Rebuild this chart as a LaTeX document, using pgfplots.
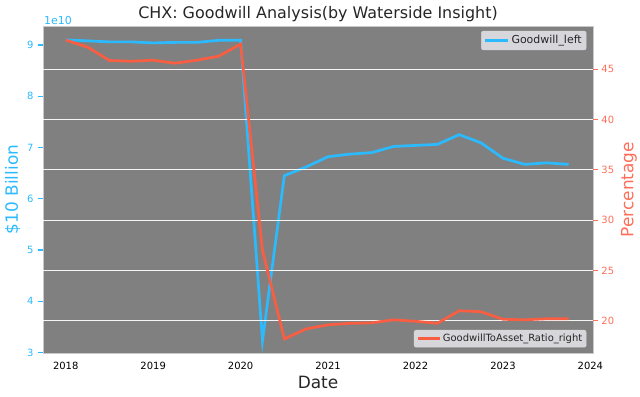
\documentclass[border=0pt]{standalone}
\usepackage{pgfplots}
\pgfplotsset{compat=1.18}
\usepackage{fontspec}
\setmainfont{DejaVu Sans}
\definecolor{gbl}{RGB}{44,186,255}
\definecolor{gred}{RGB}{250,94,66}
\definecolor{tred}{RGB}{255,110,90}
\definecolor{bg}{RGB}{128,128,128}
\definecolor{leg}{RGB}{214,214,219}
\definecolor{ttl}{RGB}{38,38,38}
\definecolor{frm}{RGB}{200,200,200}
\begin{document}
\begin{tikzpicture}
\useasboundingbox (0,0) rectangle (640bp,397bp);
\begin{axis}[
  at={(43bp,44bp)}, anchor=south west,
  scale only axis, width=550bp, height=327bp,
  xmin=2017.74, xmax=2024.03, ymin=2.99, ymax=9.37,
  clip=false,
  axis background/.style={fill=bg},
  axis line style={draw=frm, line width=0.6bp},
  xtick={2018,2019,2020,2021,2022,2023,2024},
  xtick pos=bottom, ytick pos=left,
  ytick={3,4,5,6,7,8,9},
  tick align=outside, major tick length=5bp,
  xtick style={draw opacity=0},
  ytick style={draw=gbl, line width=1.2bp},
  /pgf/number format/1000 sep={},
  /pgf/number format/assume math mode=true,
  xticklabel style={font=\fontsize{10}{12}\selectfont, text=black, yshift=-1bp},
  yticklabel style={font=\fontsize{10}{12}\selectfont, text=gbl, xshift=-1bp},
  title={CHX: Goodwill Analysis(by Waterside Insight)},
  title style={font=\fontsize{16}{19}\selectfont, text=ttl, yshift=-5bp},
  xlabel={Date},
  xlabel style={font=\fontsize{17}{20}\selectfont, text=ttl, yshift=1bp},
  ylabel={\$10 Billion},
  ylabel style={font=\fontsize{17}{20}\selectfont, text=gbl, yshift=0bp},
  legend style={at={(rel axis cs:0.988,0.985)}, anchor=north east, fill=leg, draw=leg,
    rounded corners=2bp, font=\fontsize{11}{13}\selectfont, text=ttl, inner sep=2.5bp},
  legend cell align=left,
  legend image code/.code={\draw[#1, line width=2.7bp] (0bp,0bp) -- (23bp,0bp);},
]
\addplot[gbl, line width=2.7bp] table {
x y
2018.00 9.10
2018.25 9.08
2018.50 9.06
2018.75 9.06
2019.00 9.04
2019.25 9.05
2019.50 9.05
2019.75 9.09
2020.00 9.09
2020.25 3.23
2020.50 6.45
2020.75 6.62
2021.00 6.82
2021.25 6.87
2021.50 6.90
2021.75 7.02
2022.00 7.04
2022.25 7.06
2022.50 7.25
2022.75 7.09
2023.00 6.79
2023.25 6.67
2023.50 6.70
2023.75 6.67
};
\addlegendentry{Goodwill\_left}
\node[anchor=south west, text=gbl, font=\fontsize{11}{13}\selectfont, inner sep=1bp] at (rel axis cs:0,1) {1e10};
\end{axis}
\begin{axis}[
  at={(43bp,44bp)}, anchor=south west,
  scale only axis, width=550bp, height=327bp,
  xmin=2017.74, xmax=2024.03, ymin=16.8, ymax=49.3,
  axis y line*=right, axis x line=none,
  axis line style={draw=none},
  ytick={20,25,30,35,40,45},
  tick align=outside, major tick length=5bp,
  ytick style={draw=tred, line width=1.2bp},
  ymajorgrids, grid style={white!92!gray, line width=1bp},
  /pgf/number format/assume math mode=true,
  yticklabel style={font=\fontsize{10}{12}\selectfont, text=tred},
  ylabel={Percentage},
  ylabel style={font=\fontsize{17}{20}\selectfont, text=tred},
  legend style={at={(rel axis cs:0.988,0.017)}, anchor=south east, fill=leg, draw=leg,
    rounded corners=2bp, font=\fontsize{10}{12}\selectfont, text=ttl, inner sep=2bp},
  legend cell align=left,
  legend image code/.code={\draw[#1, line width=2.7bp] (0bp,0bp) -- (22bp,0bp);},
]
\addplot[gred, line width=2.7bp] table {
x y
2018.00 47.9
2018.25 47.2
2018.50 45.87
2018.75 45.8
2019.00 45.9
2019.25 45.6
2019.50 45.9
2019.75 46.3
2020.00 47.5
2020.25 27.0
2020.50 18.2
2020.75 19.2
2021.00 19.6
2021.25 19.75
2021.50 19.8
2021.75 20.1
2022.00 19.95
2022.25 19.75
2022.50 21.0
2022.75 20.9
2023.00 20.15
2023.25 20.1
2023.50 20.2
2023.75 20.2
};
\addlegendentry{GoodwillToAsset\_Ratio\_right}
\end{axis}
\end{tikzpicture}
\end{document}
